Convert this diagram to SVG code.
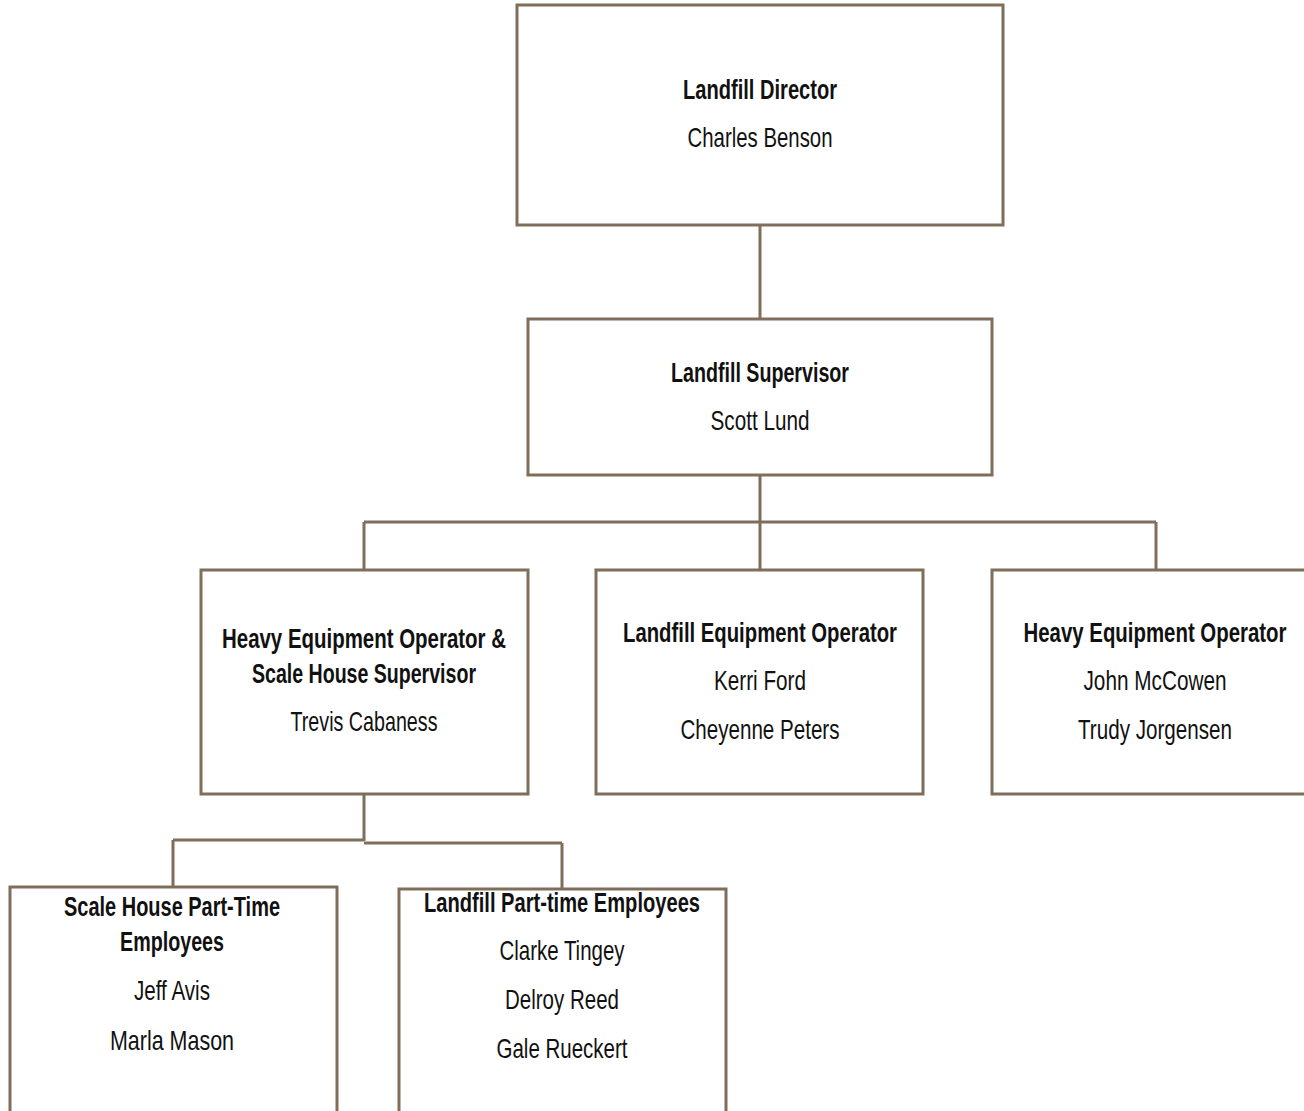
<svg xmlns="http://www.w3.org/2000/svg" width="1304" height="1111" viewBox="0 0 1304 1111">
  <style>
    .box { fill: #ffffff; stroke: #7f6f5a; stroke-width: 3; }
    .link { fill: none; stroke: #7f6f5a; stroke-width: 3; }
    text { font-family: "Liberation Sans", Arial, sans-serif; font-size: 28px; fill: #111111; text-anchor: middle; }
    .title { font-weight: bold; }
  </style>
  <rect width="1304" height="1111" fill="#ffffff"/>

  <g id="connectors">
    <path class="link" d="M760 225 V319"/>
    <path class="link" d="M760 475 V522 M364 522 H1156 M364 522 V570 M760 522 V570 M1156 522 V570"/>
    <path class="link" d="M364 794 V841 M173 840 H364 M364 843 H562 M173 840 V887 M562 843 V889"/>
  </g>

  <g id="director">
    <rect class="box" x="517" y="5" width="486" height="220"/>
    <text class="title" x="760" y="99" textLength="154" lengthAdjust="spacingAndGlyphs">Landfill Director</text>
    <text x="760" y="147" textLength="145" lengthAdjust="spacingAndGlyphs">Charles Benson</text>
  </g>

  <g id="supervisor">
    <rect class="box" x="528" y="319" width="464" height="156"/>
    <text class="title" x="760" y="382" textLength="178" lengthAdjust="spacingAndGlyphs">Landfill Supervisor</text>
    <text x="760" y="430" textLength="99" lengthAdjust="spacingAndGlyphs">Scott Lund</text>
  </g>

  <g id="scale-house-supervisor">
    <rect class="box" x="201" y="570" width="327" height="224"/>
    <text class="title" x="364" y="648" textLength="284" lengthAdjust="spacingAndGlyphs">Heavy Equipment Operator &amp;</text>
    <text class="title" x="364" y="683" textLength="224" lengthAdjust="spacingAndGlyphs">Scale House Supervisor</text>
    <text x="364" y="731" textLength="147" lengthAdjust="spacingAndGlyphs">Trevis Cabaness</text>
  </g>

  <g id="landfill-equipment-operator">
    <rect class="box" x="596" y="570" width="327" height="224"/>
    <text class="title" x="760" y="642" textLength="274" lengthAdjust="spacingAndGlyphs">Landfill Equipment Operator</text>
    <text x="760" y="690" textLength="92" lengthAdjust="spacingAndGlyphs">Kerri Ford</text>
    <text x="760" y="739" textLength="159" lengthAdjust="spacingAndGlyphs">Cheyenne Peters</text>
  </g>

  <g id="heavy-equipment-operator">
    <rect class="box" x="992" y="570" width="330" height="224"/>
    <text class="title" x="1155" y="642" textLength="263" lengthAdjust="spacingAndGlyphs">Heavy Equipment Operator</text>
    <text x="1155" y="690" textLength="143" lengthAdjust="spacingAndGlyphs">John McCowen</text>
    <text x="1155" y="739" textLength="154" lengthAdjust="spacingAndGlyphs">Trudy Jorgensen</text>
  </g>

  <g id="scale-house-part-time">
    <rect class="box" x="10" y="887" width="327" height="240"/>
    <text class="title" x="172" y="916" textLength="216" lengthAdjust="spacingAndGlyphs">Scale House Part-Time</text>
    <text class="title" x="172" y="951" textLength="104" lengthAdjust="spacingAndGlyphs">Employees</text>
    <text x="172" y="1000" textLength="76" lengthAdjust="spacingAndGlyphs">Jeff Avis</text>
    <text x="172" y="1050" textLength="124" lengthAdjust="spacingAndGlyphs">Marla Mason</text>
  </g>

  <g id="landfill-part-time">
    <rect class="box" x="399" y="889" width="327" height="240"/>
    <text class="title" x="562" y="912" textLength="276" lengthAdjust="spacingAndGlyphs">Landfill Part-time Employees</text>
    <text x="562" y="960" textLength="125" lengthAdjust="spacingAndGlyphs">Clarke Tingey</text>
    <text x="562" y="1009" textLength="114" lengthAdjust="spacingAndGlyphs">Delroy Reed</text>
    <text x="562" y="1058" textLength="131" lengthAdjust="spacingAndGlyphs">Gale Rueckert</text>
  </g>
</svg>
